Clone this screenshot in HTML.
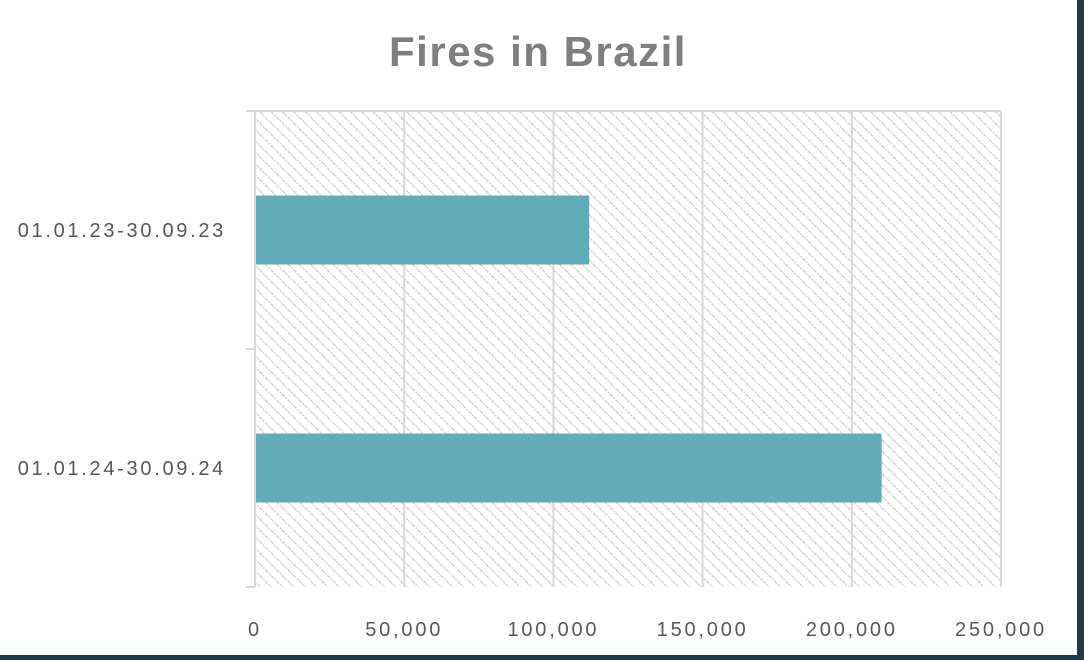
<!DOCTYPE html>
<html><head><meta charset="utf-8"><style>
body{margin:0;background:#fff;}
svg{display:block;font-family:"Liberation Sans",sans-serif;}
</style></head><body>
<svg width="1084" height="660">
<defs>
<pattern id="hatch" patternUnits="userSpaceOnUse" width="8" height="8" patternTransform="rotate(-45)">
<rect width="8" height="8" fill="#fff"/>
<line x1="0" y1="0" x2="0" y2="8" stroke="#d4d4d4" stroke-width="3" stroke-dasharray="2 1"/>
</pattern>
</defs>
<rect x="0" y="0" width="1084" height="660" fill="#fff"/>
<rect x="1077" y="0" width="7" height="660" fill="#1e3a4c"/>
<rect x="0" y="655" width="1084" height="5" fill="#1e3a4c"/>
<text x="538" y="66" text-anchor="middle" font-size="42" font-weight="bold" fill="#7f7f7f" letter-spacing="1.5">Fires in Brazil</text>
<g id="plot"></g>
</svg>
<script>
const categories = ["01.01.23-30.09.23","01.01.24-30.09.24"];
const values = [112000, 210000];
const ticks = [0,50000,100000,150000,200000,250000];
const tickLabels = ["0","50,000","100,000","150,000","200,000","250,000"];
const x0=255,x1=1001,y0=111,y1=587,xmax=250000;
const xs=v=>x0+(v/xmax)*(x1-x0);
const band=(y1-y0)/categories.length;
const g=document.getElementById('plot');
const NS='http://www.w3.org/2000/svg';
function mk(t,a){const e=document.createElementNS(NS,t);for(const k in a)e.setAttribute(k,a[k]);g.appendChild(e);return e;}
let bg=mk('rect',{x:x0,y:y0,width:x1-x0,height:y1-y0,fill:'url(#hatch)'});


ticks.forEach((t,i)=>{
 let l=mk('line',{x1:xs(t),x2:xs(t),y1:y0,y2:y1,stroke:'#d9d9d9','stroke-width':2});
 
 
 let tx=mk('text',{x:xs(t),y:636,'text-anchor':'middle','font-size':20,fill:'#595959','letter-spacing':2.8});
 tx.textContent=tickLabels[i];
 
 
});
for(let i=0;i<=categories.length;i++){
 let y=y0+i*band;
 let l=mk('line',{x1:246,x2:i==0?x1:x0,y1:y,y2:y,stroke:'#d9d9d9','stroke-width':2});
 
 
}
categories.forEach((c,i)=>{
 let cy=y0+band*(i+0.5);
 let r=mk('rect',{x:x0+1,y:cy-34.5,width:xs(values[i])-x0-1,height:69,fill:'#62abb9'});
 
 
 let t=mk('text',{x:226,y:cy+7,'text-anchor':'end','font-size':20,fill:'#595959','letter-spacing':2.7});
 t.textContent=c;
 
 
});
</script>
</body></html>
